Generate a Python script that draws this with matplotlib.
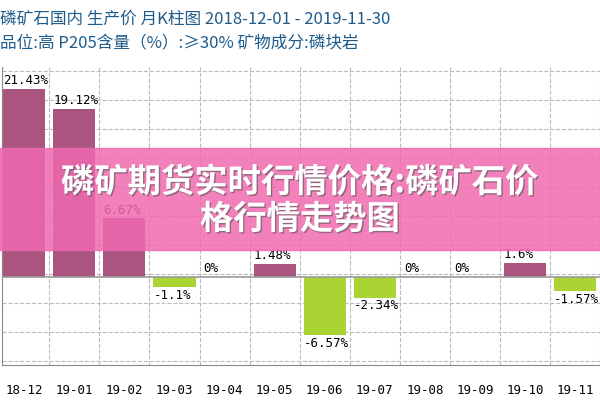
import numpy as np
import matplotlib.pyplot as plt
import matplotlib.patheffects as pe
from matplotlib.patches import Rectangle

plt.rcParams['font.family'] = ['Noto Sans CJK SC', 'DejaVu Sans']

months = ['18-12', '19-01', '19-02', '19-03', '19-04', '19-05',
          '19-06', '19-07', '19-08', '19-09', '19-10', '19-11']
changes = [21.43, 19.12, 6.67, -1.1, 0, 1.48, -6.57, -2.34, 0, 0, 1.6, -1.57]
labels = ['21.43%', '19.12%', '6.67%', '-1.1%', '0%', '1.48%',
          '-6.57%', '-2.34%', '0%', '0%', '1.6%', '-1.57%']

fig = plt.figure(figsize=(6, 4), dpi=100)
ax = fig.add_axes([0.003, 0.0875, 0.997, 0.745])

x = np.arange(len(months))
colors = ['#AA5580' if v >= 0 else '#AAD433' for v in changes]
ax.bar(x, changes, width=0.84, color=colors, zorder=3)
ax.axhline(0, color='#999999', lw=1.2, zorder=4)

for xi, v, lab in zip(x, changes, labels):
    if v >= 0:
        ax.text(xi - 0.42, v + 0.2, lab, ha='left', va='bottom', fontsize=9,
                family='DejaVu Sans Mono', zorder=5)
    else:
        ax.text(xi - 0.42, v - 0.2, lab, ha='left', va='top', fontsize=9,
                family='DejaVu Sans Mono', zorder=5)

ax.set_xlim(-0.45, 11.27)
ax.set_ylim(-10, 23.9)
ax.set_xticks(x)
ax.set_xticklabels(months, family='DejaVu Sans Mono', fontsize=9)
ax.tick_params(which='both', length=0, pad=14)
ax.set_xticks(x + 0.5, minor=True)
ax.set_yticks(np.arange(-10, 24, 3.3) + 0.5, minor=True)
ax.set_yticks([])
ax.grid(True, which='minor', ls='--', color='#bbbbbb', lw=0.8, zorder=0)
for s in ['top', 'right']:
    ax.spines[s].set_visible(False)
for s in ['left', 'bottom']:
    ax.spines[s].set_color('#888888')

fig.text(0.0, 0.952, '磷矿石国内 生产价 月K柱图 2018-12-01 - 2019-11-30',
         color='#1f5c8c', fontsize=12, va='center',
         family=['Noto Sans CJK SC', 'DejaVu Sans'])
fig.text(0.0, 0.89, '品位:高 P205含量（%）:≥30% 矿物成分:磷块岩',
         color='#1f5c8c', fontsize=12, va='center',
         family=['Noto Sans CJK SC', 'DejaVu Sans'])

fig.patches.append(Rectangle((0, 1 - 250 / 400), 1, 102 / 400,
                             transform=fig.transFigure, color='#F06AB0',
                             alpha=0.85, zorder=10))
fig.text(0.5, 0.497, '磷矿期货实时行情价格:磷矿石价\n格行情走势图',
         ha='center', va='center', color='white', fontsize=24,
         fontweight='bold', linespacing=1.15, zorder=11,
         path_effects=[pe.withSimplePatchShadow(offset=(1, -1),
                                                shadow_rgbFace='#555555', alpha=0.6)])

plt.savefig('out.png', dpi=100)
